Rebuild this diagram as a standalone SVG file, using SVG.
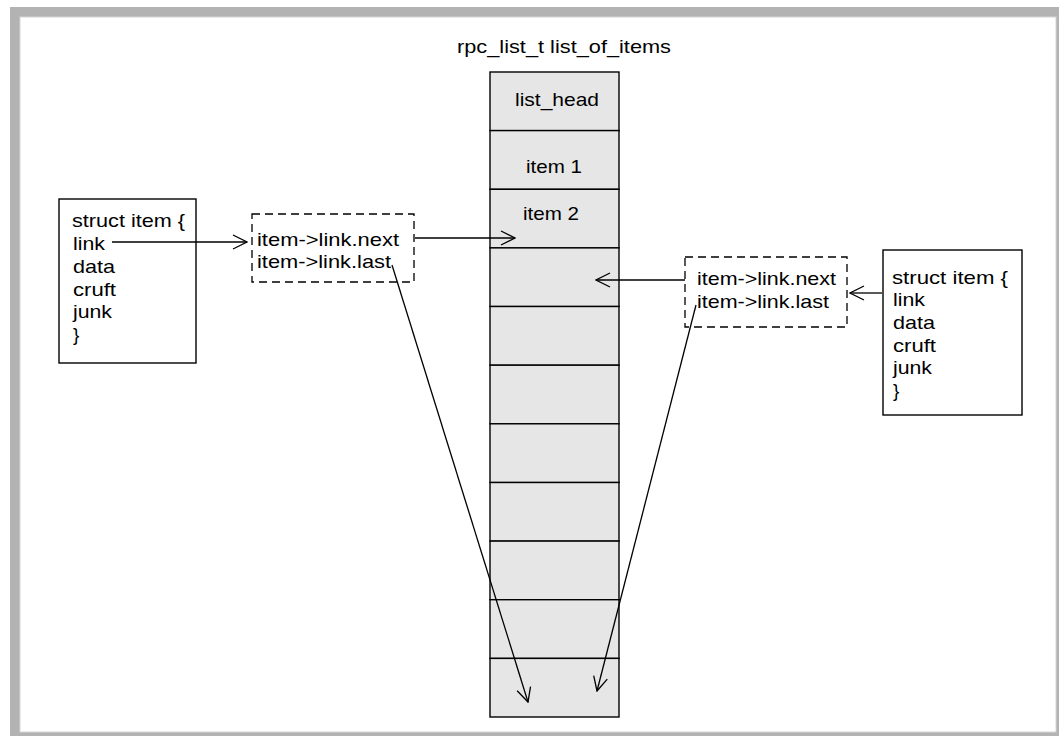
<svg xmlns="http://www.w3.org/2000/svg" width="1059" height="736" viewBox="0 0 1059 736">
<style>
text{font-family:"Liberation Sans",Arial,sans-serif;font-size:19px;fill:#000}
.c{text-anchor:middle}
.cell{fill:#e6e6e6;stroke:#000;stroke-width:1.4}
.box{fill:#fff;stroke:#000;stroke-width:1.4}
.dash{fill:none;stroke:#000;stroke-width:1.3;stroke-dasharray:8 5}
.con{fill:none;stroke:#000;stroke-width:1.3;marker-end:url(#ah)}
</style>
<defs>
<marker id="ah" markerUnits="userSpaceOnUse" markerWidth="16" markerHeight="18" viewBox="-15 -9 16 18" refX="0" refY="0" orient="auto">
<path d="M-14,-7 L0,0 L-14,7" fill="none" stroke="#000" stroke-width="1.3"/>
</marker>
</defs>
<rect x="10" y="7" width="1060" height="740" fill="#b3b3b3"/>
<rect x="20" y="17" width="1036" height="715" fill="#fff" stroke="#d6d6d6" stroke-width="1"/>
<g id="title"><text class="c" x="564" y="53" textLength="214" lengthAdjust="spacingAndGlyphs">rpc_list_t list_of_items</text></g>
<g id="list">
<rect class="cell" x="490" y="72" width="129" height="58.6"/>
<rect class="cell" x="490" y="130.6" width="129" height="58.7"/>
<rect class="cell" x="490" y="189.3" width="129" height="58.6"/>
<rect class="cell" x="490" y="247.9" width="129" height="58.6"/>
<rect class="cell" x="490" y="306.5" width="129" height="58.7"/>
<rect class="cell" x="490" y="365.2" width="129" height="58.6"/>
<rect class="cell" x="490" y="423.8" width="129" height="58.7"/>
<rect class="cell" x="490" y="482.5" width="129" height="58.6"/>
<rect class="cell" x="490" y="541.1" width="129" height="58.6"/>
<rect class="cell" x="490" y="599.7" width="129" height="58.7"/>
<rect class="cell" x="490" y="658.4" width="129" height="58.6"/>
<text class="c" x="557" y="106" textLength="84" lengthAdjust="spacingAndGlyphs">list_head</text>
<text class="c" x="554" y="173" textLength="56" lengthAdjust="spacingAndGlyphs">item 1</text>
<text class="c" x="551" y="220" textLength="56" lengthAdjust="spacingAndGlyphs">item 2</text>
</g>
<g id="struct-left">
<rect class="box" x="59" y="199" width="137" height="164"/>
<text x="72" y="227" textLength="113" lengthAdjust="spacingAndGlyphs">struct item {</text>
<text x="73" y="250" textLength="32" lengthAdjust="spacingAndGlyphs">link</text>
<text x="73" y="273" textLength="42" lengthAdjust="spacingAndGlyphs">data</text>
<text x="73" y="296" textLength="43" lengthAdjust="spacingAndGlyphs">cruft</text>
<text x="73" y="318" textLength="39" lengthAdjust="spacingAndGlyphs">junk</text>
<text x="73" y="341">}</text>
</g>
<g id="link-left">
<rect class="dash" x="252" y="214" width="162" height="68"/>
<text x="257" y="246" textLength="142" lengthAdjust="spacingAndGlyphs">item-&gt;link.next</text>
<text x="257" y="268" textLength="134" lengthAdjust="spacingAndGlyphs">item-&gt;link.last</text>
</g>
<g id="link-right">
<rect class="dash" x="685" y="257" width="162" height="70"/>
<text x="697" y="285" textLength="139" lengthAdjust="spacingAndGlyphs">item-&gt;link.next</text>
<text x="697" y="308" textLength="132" lengthAdjust="spacingAndGlyphs">item-&gt;link.last</text>
</g>
<g id="struct-right">
<rect class="box" x="883" y="250" width="139" height="165"/>
<text x="892" y="284" textLength="116" lengthAdjust="spacingAndGlyphs">struct item {</text>
<text x="893" y="306" textLength="32" lengthAdjust="spacingAndGlyphs">link</text>
<text x="893" y="329" textLength="42" lengthAdjust="spacingAndGlyphs">data</text>
<text x="893" y="352" textLength="43" lengthAdjust="spacingAndGlyphs">cruft</text>
<text x="893" y="374" textLength="39" lengthAdjust="spacingAndGlyphs">junk</text>
<text x="893" y="397">}</text>
</g>
<g id="connectors">
<line class="con" x1="112" y1="242" x2="247" y2="242"/>
<line class="con" x1="415" y1="238" x2="515" y2="238"/>
<line class="con" x1="392" y1="265" x2="528" y2="702"/>
<line class="con" x1="685" y1="280" x2="596" y2="280"/>
<line class="con" x1="882" y1="293" x2="850" y2="293"/>
<line class="con" x1="696" y1="305" x2="597" y2="691"/>
</g>
</svg>
